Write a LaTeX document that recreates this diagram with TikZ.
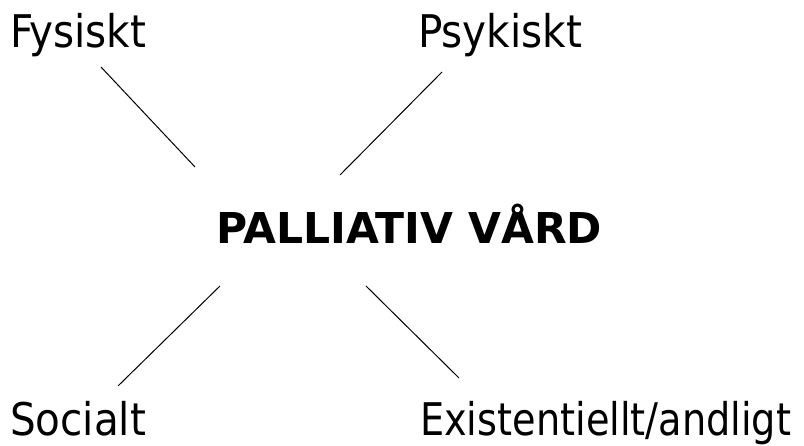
\documentclass[tikz,border=0pt]{standalone}
\usepackage{fontspec}
\setmainfont{DejaVu Sans Condensed}
\newfontfamily\titlefont{DejaVu Sans}
\begin{document}
\begin{tikzpicture}[x=1pt,y=1pt,
  label/.style={anchor=base west,inner sep=0pt,font=\fontsize{45}{50}\selectfont},
  title/.style={anchor=base west,inner sep=0pt,font=\titlefont\fontsize{42.5}{48}\selectfont\bfseries},
  spoke/.style={line width=1pt,black}]
\useasboundingbox (0,0) rectangle (804,446);
% labels
\node[label] (fys) at (10,398) {Fysiskt};
\node[label] (psy) at (418,398) {Psykiskt};
\node[title] (pv) at (216,202) {PALLIATIV VÅRD};
\node[label] (soc) at (10,10) {Socialt};
\node[label] (ex) at (420,10) {\scalebox{0.945}[1]{Existentiellt/andligt}};
% spoke end points
\coordinate (a1) at (101,379);
\coordinate (a2) at (195,279);
\coordinate (b1) at (442,374);
\coordinate (b2) at (340,271);
\coordinate (c1) at (220,160);
\coordinate (c2) at (118,60);
\coordinate (d1) at (366,160);
\coordinate (d2) at (459,68);
\draw[spoke] (a1) -- (a2);
\draw[spoke] (b1) -- (b2);
\draw[spoke] (c1) -- (c2);
\draw[spoke] (d1) -- (d2);
\end{tikzpicture}
\end{document}
